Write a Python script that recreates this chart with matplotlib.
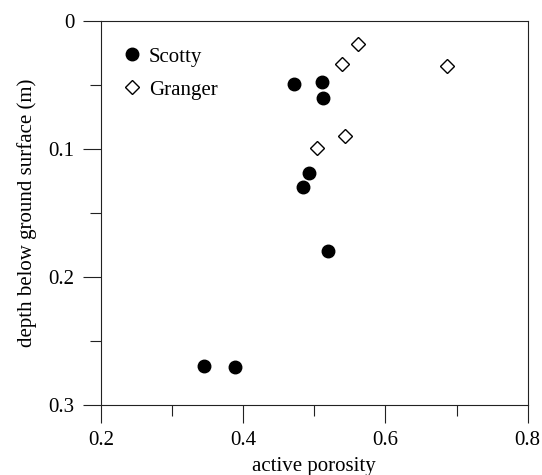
import matplotlib
matplotlib.use('Agg')
import matplotlib.pyplot as plt
from matplotlib.ticker import MultipleLocator

plt.rcParams['font.family'] = ['Liberation Serif', 'DejaVu Serif']

# data
scotty_porosity = [0.471, 0.511, 0.512, 0.493, 0.484, 0.519, 0.345, 0.388]
scotty_depth = [0.049, 0.048, 0.060, 0.119, 0.130, 0.180, 0.270, 0.271]

granger_porosity = [0.562, 0.539, 0.686, 0.543, 0.504]
granger_depth = [0.018, 0.034, 0.035, 0.090, 0.099]

fig = plt.figure(figsize=(5.42, 4.75), dpi=100)
ax = fig.add_axes([0.1863, 0.1484, 0.7873, 0.8074])

ax.plot(scotty_porosity, scotty_depth, 'o', color='black', markersize=9,
        linestyle='none', label='Scotty')
ax.plot(granger_porosity, granger_depth, 'D', markerfacecolor='white',
        markeredgecolor='black', markeredgewidth=1.0, markersize=7,
        linestyle='none', label='Granger')

ax.set_xlim(0.2, 0.8)
ax.set_ylim(0.3, 0)
ax.xaxis.set_minor_locator(MultipleLocator(0.1))
ax.yaxis.set_minor_locator(MultipleLocator(0.05))
ax.set_xticks([0.2, 0.4, 0.6, 0.8])
ax.set_xticklabels(['0.2', '0.4', '0.6', '0.8'])
ax.set_yticks([0, 0.1, 0.2, 0.3])
ax.set_yticklabels(['0', '0.1', '0.2', '0.3'])

ax.tick_params(which='major', direction='out', length=13, width=0.8,
               labelsize=15, pad=6, color='#222222')
ax.tick_params(which='minor', direction='out', length=8, width=0.8,
               color='#222222')
for s in ax.spines.values():
    s.set_linewidth(0.8)
    s.set_color('#222222')

# keep the x label just inside the bottom edge
ax.set_xlabel('active porosity', fontsize=15, labelpad=5)
ax.set_ylabel('depth below ground surface (m)', fontsize=15, labelpad=8)

ax.legend(loc='upper left', frameon=False, fontsize=15, handletextpad=0.2,
          labelspacing=0.65, borderaxespad=0.5, handlelength=1.2,
          bbox_to_anchor=(0.0, 0.981))

fig.savefig('out.png', dpi=100)
